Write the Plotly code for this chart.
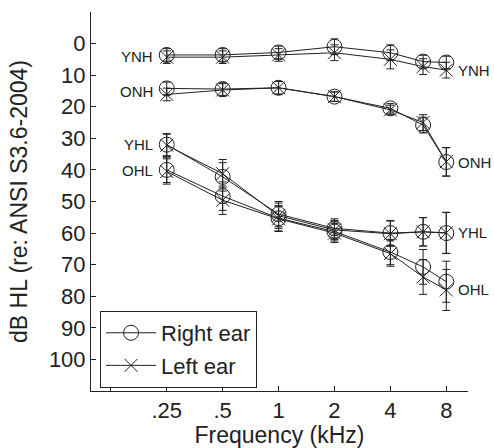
import math
import plotly.graph_objects as go

freqs = [0.25, 0.5, 1, 2, 4, 6, 8]
tick_vals = [0.125, 0.25, 0.5, 1, 2, 4, 8]
tick_text = ["", ".25", ".5", "1", "2", "4", "8"]
y_ticks = [0, 10, 20, 30, 40, 50, 60, 70, 80, 90, 100]

groups = ["YNH", "ONH", "YHL", "OHL"]

right_ear = {
    "YNH": [3.6, 3.6, 2.8, 1.0, 2.9, 5.7, 6.0],
    "ONH": [14.2, 14.4, 14.0, 16.8, 20.5, 25.8, 37.5],
    "YHL": [32.0, 42.2, 54.0, 58.5, 60.0, 59.6, 60.0],
    "OHL": [40.0, 48.3, 55.3, 59.5, 66.0, 70.7, 75.4],
}
left_ear = {
    "YNH": [4.3, 4.3, 3.6, 2.9, 5.0, 7.3, 8.4],
    "ONH": [16.1, 14.7, 14.0, 16.8, 21.0, 25.0, 37.4],
    "YHL": [32.2, 41.2, 54.5, 59.0, 60.2, 59.6, 59.9],
    "OHL": [40.5, 49.6, 55.5, 60.0, 66.5, 73.9, 78.0],
}
right_err = {
    "YNH": [2.0, 2.0, 2.0, 2.5, 2.5, 2.0, 2.0],
    "ONH": [2.0, 2.0, 2.0, 1.5, 1.5, 2.5, 4.5],
    "YHL": [3.5, 4.5, 4.0, 3.0, 4.0, 4.5, 6.5],
    "OHL": [4.0, 4.5, 4.0, 3.0, 4.0, 5.5, 6.5],
}
left_err = {
    "YNH": [2.0, 2.0, 2.0, 2.5, 3.0, 2.5, 2.5],
    "ONH": [2.0, 2.0, 2.0, 1.5, 1.5, 2.5, 4.5],
    "YHL": [3.5, 4.5, 4.0, 3.0, 4.0, 4.5, 6.5],
    "OHL": [4.0, 4.5, 4.0, 3.0, 4.0, 5.5, 6.5],
}

INK = "#222222"
FONT = "Arial, Liberation Sans, sans-serif"

fig = go.Figure()
for i, g in enumerate(groups):
    fig.add_trace(go.Scatter(
        x=freqs, y=right_ear[g], mode="lines+markers",
        name="Right ear", legendgroup="right", showlegend=(i == 0),
        line=dict(color=INK, width=1),
        marker=dict(symbol="circle-open", size=15, color=INK, line=dict(width=1)),
        error_y=dict(type="data", array=right_err[g], color=INK, thickness=1, width=4),
    ))
    fig.add_trace(go.Scatter(
        x=freqs, y=left_ear[g], mode="lines+markers",
        name="Left ear", legendgroup="left", showlegend=(i == 0),
        line=dict(color=INK, width=1),
        marker=dict(symbol="x-thin-open", size=13, color=INK, line=dict(width=1, color=INK)),
        error_y=dict(type="data", array=left_err[g], color=INK, thickness=1, width=4),
    ))

for g in groups:
    y_left = (right_ear[g][0] + left_ear[g][0]) / 2
    y_right = left_ear[g][-1] if g != "ONH" else right_ear[g][-1]
    fig.add_annotation(x=math.log10(freqs[0]), y=y_left, xref="x", yref="y", text=g,
                       showarrow=False, xanchor="right", xshift=-12,
                       font=dict(family=FONT, size=15, color=INK))
    fig.add_annotation(x=math.log10(freqs[-1]), y=y_right, xref="x", yref="y", text=g,
                       showarrow=False, xanchor="left", xshift=10,
                       font=dict(family=FONT, size=15, color=INK))

fig.update_layout(
    width=494, height=448,
    margin=dict(l=91, r=26, t=12, b=57),
    paper_bgcolor="white", plot_bgcolor="white",
    font=dict(family=FONT, size=22, color=INK),
    legend=dict(x=0.024, y=0.008, xanchor="left", yanchor="bottom",
                bordercolor=INK, borderwidth=1, bgcolor="white",
                tracegroupgap=1, itemwidth=50,
                font=dict(family=FONT, size=22, color=INK)),
    xaxis=dict(type="log", range=[-1.01, 1.02], tickvals=tick_vals, ticktext=tick_text,
               ticks="inside", ticklen=5, tickcolor=INK, showline=True, linecolor=INK,
               linewidth=1, showgrid=False, zeroline=False, automargin=False,
               title=dict(text="Frequency (kHz)", standoff=9, font=dict(size=23)),
               tickfont=dict(size=22)),
    yaxis=dict(range=[110, -10], tickvals=y_ticks, ticks="inside", ticklen=5,
               tickcolor=INK, showline=True, linecolor=INK, linewidth=1,
               showgrid=False, zeroline=False, automargin=False,
               title=dict(text="dB HL (re: ANSI S3.6-2004)", standoff=14, font=dict(size=23)),
               tickfont=dict(size=22)),
)

fig.write_html("out.html")
